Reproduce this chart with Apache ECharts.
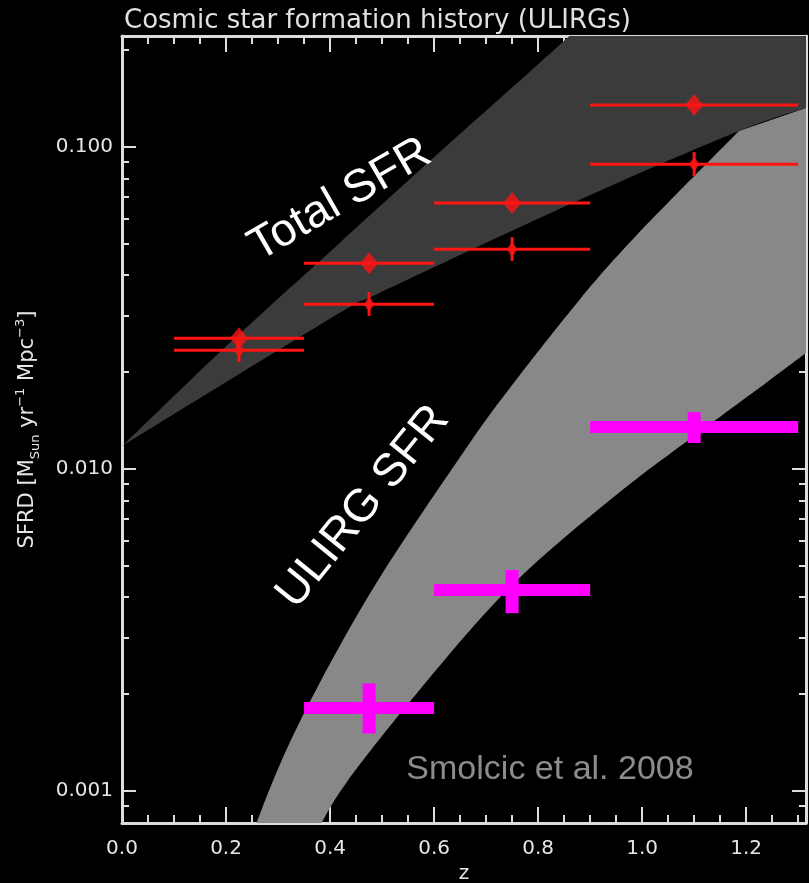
<!DOCTYPE html>
<html><head><meta charset="utf-8">
<script src="https://cdn.jsdelivr.net/npm/echarts@6/dist/echarts.min.js"></script>
<style>html,body{margin:0;padding:0;background:#000;} #c{width:809px;height:883px;}</style>
</head><body><div id="c"></div>
<script>
// Tick labels
const xTickLabels = ['0.0','0.2','0.4','0.6','0.8','1.0','1.2'];
const yTickLabels = ['0.001','0.010','0.100'];

// Total SFR band edges
const totalUpperZ = [0, 0.213, 0.418, 0.630, 0.783, 0.860];
const totalUpperV = [0.01178, 0.02516, 0.05032, 0.1029, 0.1709, 0.2213];
const totalCornerZ = [1.315];
const totalCornerV = [0.2213];
const totalLowerZ = [0, 0.418, 0.495, 0.879, 1.186, 1.315];
const totalLowerV = [0.01178, 0.03051, 0.03521, 0.06845, 0.1121, 0.1322];

// ULIRG SFR band edges
const ulirgUpperZ = [0.246, 0.303, 0.380, 0.495, 0.662, 0.750, 0.879, 0.988, 1.186];
const ulirgUpperV = [0.000704, 0.001204, 0.002165, 0.004586, 0.01162, 0.01823, 0.03347, 0.05292, 0.1121];
const ulirgCornerZ = [1.315];
const ulirgCornerV = [0.1322];
const ulirgLowerZ = [0.376, 0.432, 0.572, 0.750, 0.950, 1.134, 1.238, 1.315];
const ulirgLowerV = [0.000757, 0.001066, 0.00206, 0.004363, 0.008305, 0.0139, 0.0185, 0.02292];

// Total SFR data points (red)
const binLo = [0.1, 0.35, 0.6, 0.9];
const binHi = [0.35, 0.6, 0.9, 1.3];
const zMid = [0.225, 0.475, 0.75, 1.1];
const totalA = [0.0255, 0.0436, 0.0670, 0.135];
const totalB = [0.0234, 0.0325, 0.0482, 0.0885];
const totalBLo = [0.0215, 0.0299, 0.0443, 0.0813];
const totalBHi = [0.02535, 0.0355, 0.0525, 0.0965];

// ULIRG data points (magenta)
const ulirgBinLo = [0.35, 0.6, 0.9];
const ulirgBinHi = [0.6, 0.9, 1.3];
const ulirgZ = [0.475, 0.75, 1.1];
const ulirgV = [0.00181, 0.00421, 0.0135];
const ulirgVLo = [0.00151, 0.00357, 0.01205];
const ulirgVHi = [0.00216, 0.00486, 0.01503];

const AXC = '#dcdcdc';
const FONT = 'DejaVu Sans';

// smooth curve through screen points (Catmull-Rom -> cubic bezier)
function curvePath(pts, start) {
  let d = start ? ('M' + pts[0][0] + ',' + pts[0][1]) : ('L' + pts[0][0] + ',' + pts[0][1]);
  for (let i = 0; i < pts.length - 1; i++) {
    const p0 = pts[Math.max(i - 1, 0)], p1 = pts[i], p2 = pts[i + 1], p3 = pts[Math.min(i + 2, pts.length - 1)];
    const c1 = [p1[0] + (p2[0] - p0[0]) / 6, p1[1] + (p2[1] - p0[1]) / 6];
    const c2 = [p2[0] - (p3[0] - p1[0]) / 6, p2[1] - (p3[1] - p1[1]) / 6];
    d += 'C' + c1[0] + ',' + c1[1] + ' ' + c2[0] + ',' + c2[1] + ' ' + p2[0] + ',' + p2[1];
  }
  return d;
}

function bandSeries(upZ, upV, cZ, cV, loZ, loV, color, zl) {
  return {
    type: 'custom', clip: true, silent: true, z: zl,
    data: [[upZ[0], upV[0]]],
    renderItem: function (params, api) {
      const up = upZ.map((z, i) => api.coord([z, upV[i]]));
      const co = cZ.map((z, i) => api.coord([z, cV[i]]));
      const lo = loZ.map((z, i) => api.coord([z, loV[i]])).reverse();
      let d = curvePath(up, true);
      co.forEach(p => { d += 'L' + p[0] + ',' + p[1]; });
      d += curvePath(lo, false) + 'Z';
      const cs = params.coordSys;
      return {
        type: 'path', shape: { pathData: d }, style: { fill: color },
        clipPath: { type: 'rect', shape: { x: cs.x, y: cs.y, width: cs.width, height: cs.height } }
      };
    }
  };
}

function xAxisDef(pos, labels) {
  return {
    type: 'value', position: pos, min: 0, max: 1.315, interval: 0.2,
    axisLine: { show: true, onZero: false, lineStyle: { color: AXC, width: 3 } },
    axisTick: { show: true, inside: true, length: 16, lineStyle: { color: AXC, width: 2 } },
    minorTick: { show: true, splitNumber: 4, length: 8, lineStyle: { color: AXC, width: 2 } },
    splitLine: { show: false }, minorSplitLine: { show: false },
    axisLabel: labels ? {
      show: true, showMaxLabel: false, margin: 16, color: '#e6e6e6', fontSize: 20, fontFamily: FONT,
      formatter: v => { const i = Math.round(v / 0.2); return (Math.abs(v - i * 0.2) < 1e-6 && xTickLabels[i]) ? xTickLabels[i] : ''; }
    } : { show: false },
    name: labels ? 'z' : '', nameLocation: 'middle', nameGap: 40,
    nameTextStyle: { color: '#e6e6e6', fontSize: 20, fontFamily: FONT }
  };
}
function yAxisDef(pos, labels) {
  return {
    type: 'log', logBase: 10, position: pos, min: 0.000796, max: 0.2213,
    axisLine: { show: true, onZero: false, lineStyle: { color: AXC, width: 3 } },
    axisTick: { show: true, inside: true, length: 14, lineStyle: { color: AXC, width: 2 } },
    minorTick: { show: true, splitNumber: 9, length: 7, lineStyle: { color: AXC, width: 2 } },
    splitLine: { show: false }, minorSplitLine: { show: false },
    axisLabel: labels ? {
      show: true, showMinLabel: false, showMaxLabel: false, margin: 9, color: '#e6e6e6', fontSize: 20, fontFamily: FONT,
      formatter: v => { const e = Math.log10(v); const i = Math.round(e) + 3; return (Math.abs(e - Math.round(e)) < 1e-6 && yTickLabels[i]) ? yTickLabels[i] : ''; }
    } : { show: false },
    name: labels ? '{n|SFRD [M}{sub|Sun}{n| yr}{sup|−1}{n| Mpc}{sup|−3}{n|]}' : '',
    nameLocation: 'middle', nameRotate: 90, nameGap: 80,
    nameTextStyle: {
      color: '#e6e6e6', fontFamily: FONT,
      rich: {
        n: { fontSize: 21, color: '#e6e6e6', fontFamily: FONT, lineHeight: 28, verticalAlign: 'middle' },
        sub: { fontSize: 13, color: '#e6e6e6', fontFamily: FONT, lineHeight: 28, verticalAlign: 'bottom' },
        sup: { fontSize: 13, color: '#e6e6e6', fontFamily: FONT, lineHeight: 28, verticalAlign: 'top' }
      }
    }
  };
}

const chart = echarts.init(document.getElementById('c'), null, { renderer: 'canvas' });
chart.setOption({
  backgroundColor: '#000',
  animation: false,
  title: {
    text: 'Cosmic star formation history (ULIRGs)', left: 119, top: 3,
    textStyle: { color: '#e0e0e0', fontSize: 26, fontWeight: 'normal', fontFamily: FONT }
  },
  grid: { left: 122, right: 3, top: 36, bottom: 60, containLabel: false, outerBoundsMode: 'none' },
  xAxis: [xAxisDef('bottom', true), xAxisDef('top', false)],
  yAxis: [yAxisDef('left', true), yAxisDef('right', false)],
  series: [
    bandSeries(ulirgUpperZ, ulirgUpperV, ulirgCornerZ, ulirgCornerV, ulirgLowerZ, ulirgLowerV, '#888888', 1),
    bandSeries(totalUpperZ, totalUpperV, totalCornerZ, totalCornerV, totalLowerZ, totalLowerV, '#3b3b3b', 2),
    {
      type: 'custom', z: 5, silent: true,
      data: binLo.map((lo, i) => [lo, binHi[i], totalA[i]]).concat(binLo.map((lo, i) => [lo, binHi[i], totalB[i]])),
      encode: { x: [0, 1], y: 2 },
      renderItem: function (p, api) {
        const a = api.coord([api.value(0), api.value(2)]);
        const b = api.coord([api.value(1), api.value(2)]);
        return { type: 'line', shape: { x1: a[0], y1: a[1], x2: b[0], y2: b[1] }, style: { stroke: '#ff1414', lineWidth: 3 } };
      }
    },
    {
      type: 'custom', z: 5, silent: true,
      data: zMid.map((z, i) => [z, totalBLo[i], totalBHi[i]]),
      encode: { x: 0, y: [1, 2] },
      renderItem: function (p, api) {
        const a = api.coord([api.value(0), api.value(1)]);
        const b = api.coord([api.value(0), api.value(2)]);
        return { type: 'line', shape: { x1: a[0], y1: a[1], x2: b[0], y2: b[1] }, style: { stroke: '#ff1414', lineWidth: 3 } };
      }
    },
    {
      type: 'scatter', z: 6, silent: true, symbol: 'diamond', symbolSize: [18, 22],
      itemStyle: { color: '#ff1414' },
      data: zMid.map((z, i) => [z, totalA[i]])
    },
    {
      type: 'scatter', z: 6, silent: true, symbol: 'diamond', symbolSize: [11, 15],
      itemStyle: { color: '#ff1414' },
      data: zMid.map((z, i) => [z, totalB[i]])
    },
    {
      type: 'custom', z: 7, silent: true,
      data: ulirgZ.map((z, i) => [ulirgBinLo[i], ulirgBinHi[i], z, ulirgV[i], ulirgVLo[i], ulirgVHi[i]]),
      encode: { x: [0, 1, 2], y: [3, 4, 5] },
      renderItem: function (p, api) {
        const h1 = api.coord([api.value(0), api.value(3)]);
        const h2 = api.coord([api.value(1), api.value(3)]);
        const v1 = api.coord([api.value(2), api.value(4)]);
        const v2 = api.coord([api.value(2), api.value(5)]);
        return {
          type: 'group', children: [
            { type: 'line', shape: { x1: h1[0], y1: h1[1], x2: h2[0], y2: h2[1] }, style: { stroke: '#ff00ff', lineWidth: 12, lineCap: 'butt' } },
            { type: 'line', shape: { x1: v1[0], y1: v1[1], x2: v2[0], y2: v2[1] }, style: { stroke: '#ff00ff', lineWidth: 13, lineCap: 'butt' } }
          ]
        };
      }
    }
  ],
  graphic: [
    { type: 'text', x: 340, y: 200, rotation: 30 * Math.PI / 180, z: 100,
      style: { text: 'Total SFR', fill: '#ffffff', fontSize: 46, fontFamily: 'Liberation Sans', align: 'center', verticalAlign: 'middle' } },
    { type: 'text', x: 363, y: 507, rotation: 51 * Math.PI / 180, z: 100,
      style: { text: 'ULIRG SFR', fill: '#ffffff', fontSize: 46, fontFamily: 'Liberation Sans', align: 'center', verticalAlign: 'middle' } },
    { type: 'text', x: 550, y: 770, z: 100,
      style: { text: 'Smolcic et al. 2008', fill: '#8c8c8c', fontSize: 34, fontFamily: 'Liberation Sans', align: 'center', verticalAlign: 'middle' } }
  ]
});
</script>
</body></html>
